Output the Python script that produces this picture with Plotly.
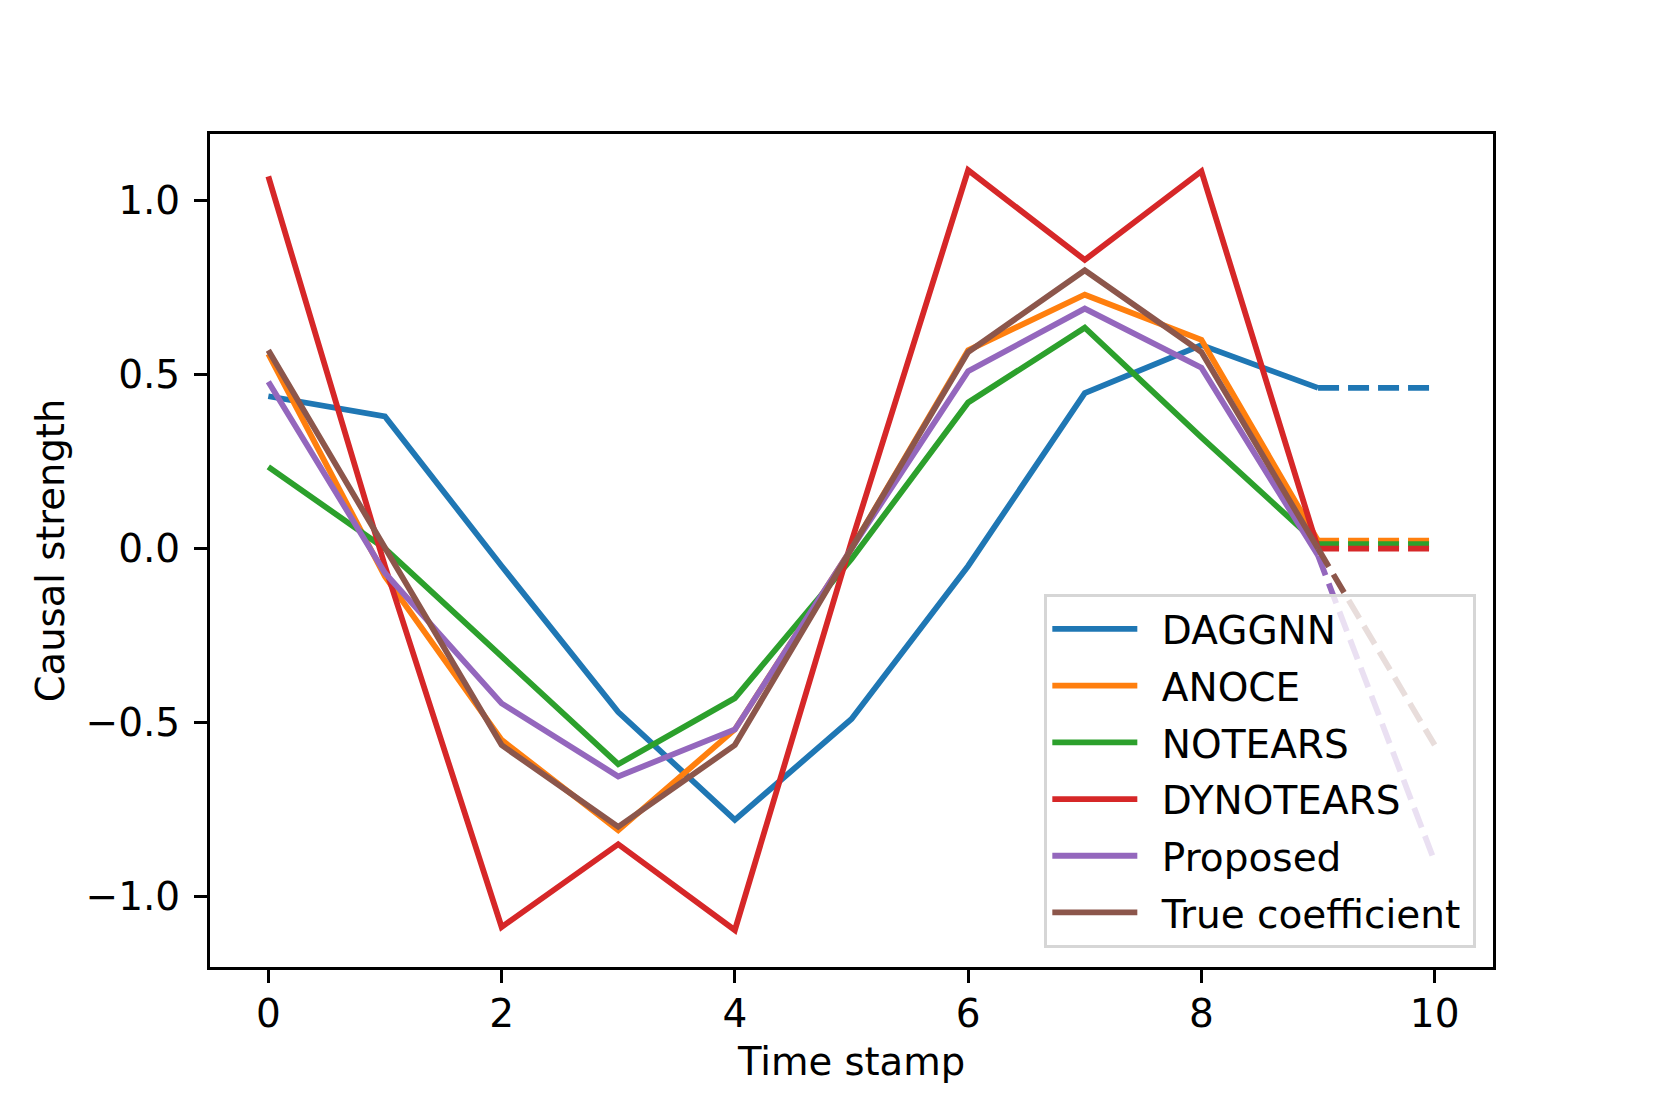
import plotly.graph_objects as go

time_stamps = [0, 1, 2, 3, 4, 5, 6, 7, 8, 9]
forecast_x = [9, 10]

methods = ["DAGGNN", "ANOCE", "NOTEARS", "DYNOTEARS", "Proposed", "True coefficient"]
colors = ["#1f77b4", "#ff7f0e", "#2ca02c", "#d62728", "#9467bd", "#8c564b"]

daggnn = [0.438, 0.38, -0.05, -0.47, -0.78, -0.49, -0.05, 0.447, 0.585, 0.462]
anoce = [0.56, -0.08, -0.55, -0.81, -0.52, 0.0, 0.57, 0.73, 0.60, 0.023]
notears = [0.235, 0.0, -0.31, -0.62, -0.43, -0.03, 0.42, 0.635, 0.32, 0.013]
dynotears = [1.07, -0.05, -1.088, -0.85, -1.097, 0.02, 1.088, 0.83, 1.085, 0.0]
proposed = [0.48, -0.07, -0.445, -0.655, -0.52, 0.0, 0.51, 0.69, 0.52, -0.02]
true_coef = [0.57, 0.0, -0.565, -0.80, -0.565, 0.0, 0.565, 0.80, 0.565, 0.0]

# value at time stamp 10 (dashed continuation)
forecast_end = [0.462, 0.023, 0.013, 0.0, -0.9, -0.565]

series = [daggnn, anoce, notears, dynotears, proposed, true_coef]

yticks = [-1.0, -0.5, 0.0, 0.5, 1.0]
yticklabels = ["\u22121.0", "\u22120.5", "0.0", "0.5", "1.0"]
xticks = [0, 2, 4, 6, 8, 10]

fig = go.Figure()
for name, col, ys, end in zip(methods, colors, series, forecast_end):
    fig.add_trace(go.Scatter(x=time_stamps, y=ys, mode="lines",
                             name="\u2002" + name + "\u2009",
                             legendgroup=name,
                             line=dict(color=col, width=5.8)))
    fig.add_trace(go.Scatter(x=forecast_x, y=[ys[-1], end], mode="lines",
                             legendgroup=name, showlegend=False, hoverinfo="skip",
                             line=dict(color=col, width=5.8, dash="21px,9px")))

font = dict(family="DejaVu Sans", size=39, color="black")
title_font = dict(family="DejaVu Sans", size=38.5, color="black")
axis_common = dict(showline=True, linecolor="black", linewidth=3, mirror=True,
                   ticks="outside", ticklen=13, tickwidth=3, tickcolor="black",
                   showgrid=False, zeroline=False, tickfont=font)

fig.update_layout(
    width=1653, height=1099,
    margin=dict(l=202, r=168, t=126, b=140),
    paper_bgcolor="white", plot_bgcolor="white",
    font=font,
    xaxis=dict(range=[-0.5, 10.5], tickvals=xticks, ticklabelstandoff=-3,
               title=dict(text="Time stamp", font=title_font, standoff=14), **axis_common),
    yaxis=dict(range=[-1.203, 1.192], tickvals=yticks, ticktext=yticklabels,
               ticklabelstandoff=6,
               title=dict(text="Causal strength", font=title_font, standoff=10), **axis_common),
    legend=dict(x=0.987, y=0.0227, xanchor="right", yanchor="bottom",
                bgcolor="rgba(255,255,255,0.8)", bordercolor="#d6d6d6", borderwidth=3,
                font=font, itemwidth=85, tracegroupgap=3, traceorder="grouped"),
    showlegend=True,
)

fig.write_html("out.html")
